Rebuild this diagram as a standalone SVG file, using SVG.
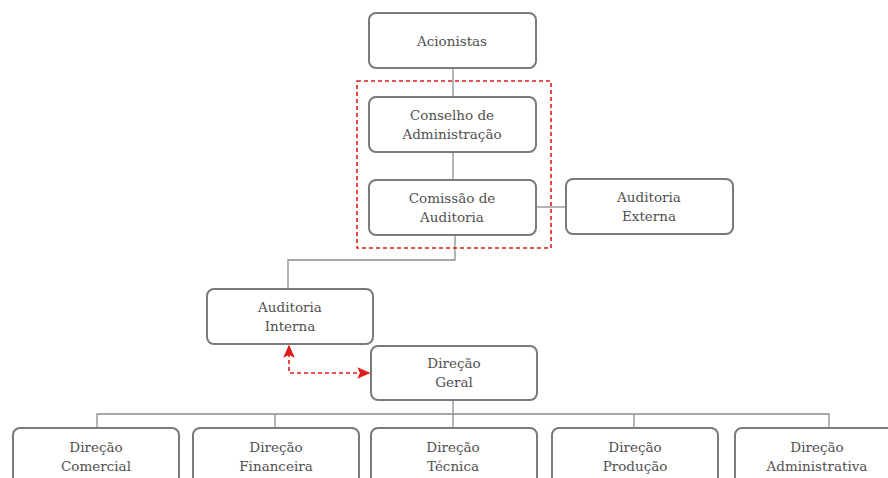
<svg xmlns="http://www.w3.org/2000/svg" width="888" height="478" viewBox="0 0 888 478">
  <style>
    .box { fill: #ffffff; stroke: #7a7a7a; stroke-width: 2; }
    .lbl { font-family: 'DejaVu Serif', 'Liberation Serif', serif; font-size: 13.5px; fill: #505050; text-anchor: middle; }
    .link { fill: none; stroke: #8c8c8c; stroke-width: 1.3; }
    .dash { fill: none; stroke: #e01b1b; stroke-width: 1.6; stroke-dasharray: 4 3; }
  </style>
  <defs>
    <marker id="redArrow" viewBox="0 0 10 10" refX="9" refY="5" markerWidth="13" markerHeight="13" orient="auto-start-reverse" markerUnits="userSpaceOnUse">
      <path d="M0,0.5 L10,5 L0,9.5 L2,5 Z" fill="#e01b1b"/>
    </marker>
  </defs>
  <rect width="888" height="478" fill="#ffffff"/>

  <g id="connectors">
    <path class="link" d="M453,68 V96"/>
    <path class="link" d="M453,152 V179"/>
    <path class="link" d="M537,207 H566"/>
    <path class="link" d="M455,235 V260 H288 V288"/>
    <path class="link" d="M453,400 V414"/>
    <path class="link" d="M97,428 V414 H829 V428"/>
    <path class="link" d="M275,414 V428"/>
    <path class="link" d="M453,414 V428"/>
    <path class="link" d="M634,414 V428"/>
    <path class="dash" d="M289,346 V373 H369" marker-start="url(#redArrow)" marker-end="url(#redArrow)"/>
  </g>

  <g id="grupo-governo">
    <rect class="dash" x="357" y="81" width="194" height="167"/>
  </g>

  <g id="acionistas">
    <rect class="box" x="369" y="13" width="167" height="55" rx="7"/>
    <text class="lbl" x="452" y="46">Acionistas</text>
  </g>
  <g id="conselho">
    <rect class="box" x="369" y="97" width="167" height="55" rx="7"/>
    <text class="lbl" x="452" y="120">Conselho de</text>
    <text class="lbl" x="452" y="139">Administração</text>
  </g>
  <g id="comissao">
    <rect class="box" x="369" y="180" width="167" height="55" rx="7"/>
    <text class="lbl" x="452" y="203">Comissão de</text>
    <text class="lbl" x="452" y="222">Auditoria</text>
  </g>
  <g id="auditoria-externa">
    <rect class="box" x="566" y="179" width="167" height="55" rx="7"/>
    <text class="lbl" x="649" y="202">Auditoria</text>
    <text class="lbl" x="649" y="221">Externa</text>
  </g>
  <g id="auditoria-interna">
    <rect class="box" x="207" y="289" width="166" height="55" rx="7"/>
    <text class="lbl" x="290" y="312">Auditoria</text>
    <text class="lbl" x="290" y="331">Interna</text>
  </g>
  <g id="direcao-geral">
    <rect class="box" x="371" y="346" width="166" height="54" rx="7"/>
    <text class="lbl" x="454" y="368">Direção</text>
    <text class="lbl" x="454" y="387">Geral</text>
  </g>

  <g id="direcao-comercial">
    <rect class="box" x="13" y="428" width="166" height="70" rx="7"/>
    <text class="lbl" x="96" y="452">Direção</text>
    <text class="lbl" x="96" y="471">Comercial</text>
  </g>
  <g id="direcao-financeira">
    <rect class="box" x="193" y="428" width="166" height="70" rx="7"/>
    <text class="lbl" x="276" y="452">Direção</text>
    <text class="lbl" x="276" y="471">Financeira</text>
  </g>
  <g id="direcao-tecnica">
    <rect class="box" x="371" y="428" width="166" height="70" rx="7"/>
    <text class="lbl" x="453" y="452">Direção</text>
    <text class="lbl" x="453" y="471">Técnica</text>
  </g>
  <g id="direcao-producao">
    <rect class="box" x="552" y="428" width="166" height="70" rx="7"/>
    <text class="lbl" x="635" y="452">Direção</text>
    <text class="lbl" x="635" y="471">Produção</text>
  </g>
  <g id="direcao-administrativa">
    <rect class="box" x="735" y="428" width="166" height="70" rx="7"/>
    <text class="lbl" x="817" y="452">Direção</text>
    <text class="lbl" x="817" y="471">Administrativa</text>
  </g>
</svg>
